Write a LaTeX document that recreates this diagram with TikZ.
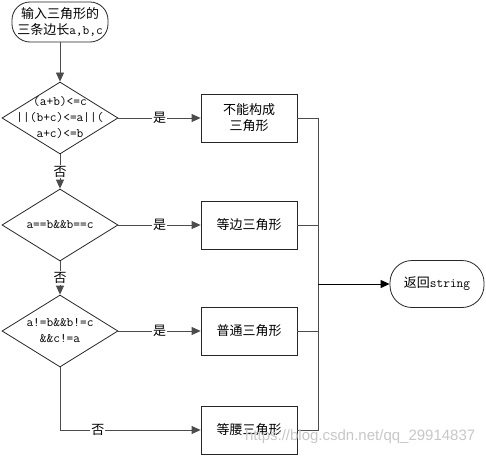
\documentclass[tikz,border=0pt]{standalone}
\usepackage{fontspec}
\newfontfamily\cjk{Noto Sans CJK SC}
\newfontfamily\wmfont{Liberation Sans}
\usetikzlibrary{shapes.geometric,arrows.meta}

\begin{document}
\begin{tikzpicture}[x=1pt,y=-1pt,font=\cjk\fontsize{13}{16}\selectfont,line width=0.8pt,
    proc/.style={draw=black!85, rectangle, minimum width=96pt, minimum height=48pt, align=center},
    term/.style={draw=black!85, rectangle, rounded corners=18pt, align=center},
    cond/.style={draw=black!85, diamond, minimum width=116pt, minimum height=72pt, inner sep=0pt},
    flow/.style={draw=black!70, -{Triangle[length=9pt,width=8pt]}},
    yes/.style={fill=white, inner sep=1pt, text=black}]
    \useasboundingbox (0,0) rectangle (486,455);
    \node[term, minimum width=96pt, minimum height=40pt] (start) at (60,22) {输入三角形的\\三条边长\texttt{a,b,c}}; % input
    \node[cond, label={[align=center]center:\texttt{(a+b)<=c}\\\texttt{||(b+c)<=a||(}\\\texttt{a+c)<=b}}] (c1) at (60,118) {}; % not a triangle?
    \node[proc] (b1) at (249,118) {不能构成\\三角形};
    \node[cond, label={center:\texttt{a==b\&\&b==c}}] (c2) at (60,225) {}; % all sides equal?
    \node[proc] (b2) at (249,225) {等边三角形};
    \node[cond, label={[align=center]center:\texttt{a!=b\&\&b!=c}\\\texttt{\&\&c!=a}}] (c3) at (60,331) {}; % no sides equal?
    \node[proc] (b3) at (249,331) {普通三角形};
    \node[proc] (b4) at (249,430) {等腰三角形};
    \node[term, minimum width=94pt, minimum height=47pt, rounded corners=22pt] (ret) at (437,284) {返回\texttt{string}}; % output
    \coordinate (join) at (318,284); % collector

    \draw[flow] (start) -- (c1);
    \draw[flow] (c1) -- node[yes] {是} (b1);
    \draw[flow] (c1) -- node[yes] {否} (c2);
    \draw[flow] (c2) -- node[yes] {是} (b2);
    \draw[flow] (c2) -- node[yes] {否} (c3);
    \draw[flow] (c3) -- node[yes] {是} (b3);
    \draw[flow] (c3) |- node[yes, pos=0.635] {否} (b4);
    \draw[black!70] (b1.east) -| (join); % collect results
    \draw[black!70] (b2.east) -| (join);
    \draw[black!70] (b3.east) -| (join);
    \draw[black!70] (b4.east) -| (join);
    \draw[black, line width=1pt, -{Triangle[length=9pt,width=8pt]}] (join) -- (ret);

    \node[font=\wmfont\fontsize{15}{15}\selectfont, text=black!22, anchor=east] (wm) at (479,437) {https://blog.csdn.net/qq\_29914837}; % watermark
\end{tikzpicture}
\end{document}
